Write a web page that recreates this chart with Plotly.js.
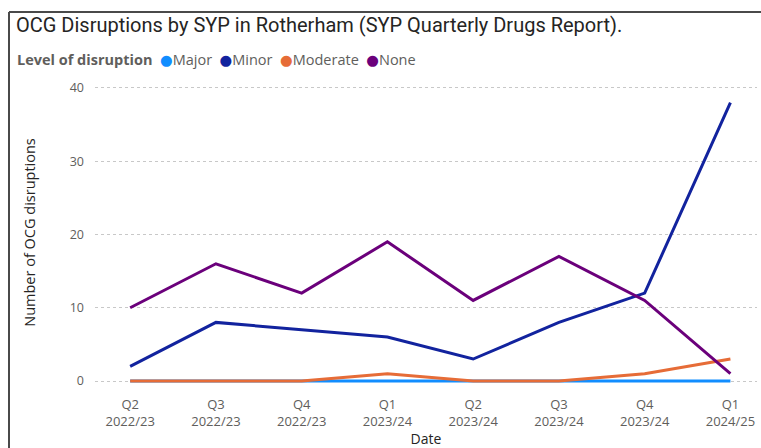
<!DOCTYPE html>
<html>
<head>
<meta charset="utf-8">
<script src="https://cdn.plot.ly/plotly-3.0.1.min.js"></script>
<style>
html,body{margin:0;padding:0;background:#fff;}
#chart{width:761px;height:448px;}
</style>
</head>
<body>
<div id="chart"></div>
<script>
const categories = ["Q2<br>2022/23","Q3<br>2022/23","Q4<br>2022/23","Q1<br>2023/24","Q2<br>2023/24","Q3<br>2023/24","Q4<br>2023/24","Q1<br>2024/25"];
const seriesNames = ["Major","Minor","Moderate","None"];
const major = [0,0,0,0,0,0,0,0];
const minor = [2,8,7,6,3,8,12,38];
const moderate = [0,0,0,1,0,0,1,3];
const none = [10,16,12,19,11,17,11,1];
const colors = ["#118DFF","#12239E","#E66C37","#6B007B"];
const yTicks = [0,10,20,30,40];

const values = [major, minor, moderate, none];
const FONT = "Segoe UI, 'Open Sans', 'DejaVu Sans', sans-serif";
const TITLEFONT = "Roboto, 'DejaVu Sans', sans-serif";

const traces = [];
values.forEach((v,i)=>{
  traces.push({
    x: categories, y: v, type:'scatter', mode:'lines',
    name: seriesNames[i], showlegend:false,
    line:{color:colors[i], width:3},
    hoverinfo:'x+y+name'
  });
});

const L=95, R=757, T=80, B=385;
const W=R-L, H=B-T;
const px=(x)=>(x-L)/W, py=(y)=>(B-y)/H;

// legend drawn as rich-text annotation from the series names and colours
const legendText = "<b>Level of disruption</b>  " + seriesNames.map((n,i)=>
  "<span style='color:"+colors[i]+"'>●</span>"+n).join("  ");

const layout = {
  width:761, height:448,
  margin:{l:L, r:761-R, t:T, b:448-B, pad:0},
  paper_bgcolor:'#fff', plot_bgcolor:'#fff',
  font:{family:FONT, color:'#605E5C', size:12},
  title:{text:"OCG Disruptions by SYP in Rotherham (SYP Quarterly Drugs Report).",
    font:{family:TITLEFONT, size:20, color:'#252423'},
    x:16/761, xanchor:'left', xref:'container', y:1-25/448, yanchor:'middle', yref:'container'},
  showlegend:false,
  annotations:[
    {xref:'paper', yref:'paper', x:px(15), y:py(60), xanchor:'left', yanchor:'middle',
     text:legendText, showarrow:false, font:{family:FONT, size:14.5, color:'#605E5C'}}
  ],
  xaxis:{type:'category', range:[-0.41,7.31], showgrid:false, zeroline:false, showline:false,
    ticks:'', tickfont:{size:13, color:'#605E5C'}, ticklabelstandoff:10,
    title:{text:"Date", font:{size:14, color:'#252423'}, standoff:2}, fixedrange:true},
  yaxis:{range:[-0.546,41.09], tickvals:yTicks, ticktext:yTicks.map(String), showgrid:true,
    gridcolor:'#C8C8C8', griddash:'dot', gridwidth:1, zeroline:false, showline:false, ticks:'',
    tickfont:{size:12.5, color:'#605E5C'}, ticklabelstandoff:10,
    title:{text:"Number of OCG disruptions", font:{size:14.5, color:'#252423'}, standoff:30}, fixedrange:true},
  shapes:[
    {type:'line', xref:'paper', yref:'paper', x0:px(9), x1:px(761), y0:py(12), y1:py(12), line:{color:'#4a4a4a', width:2}},
    {type:'line', xref:'paper', yref:'paper', x0:px(9), x1:px(9), y0:py(12), y1:py(448), line:{color:'#4a4a4a', width:2}}
  ]
};
Plotly.newPlot('chart', traces, layout, {displayModeBar:false, staticPlot:true});
</script>
</body>
</html>
